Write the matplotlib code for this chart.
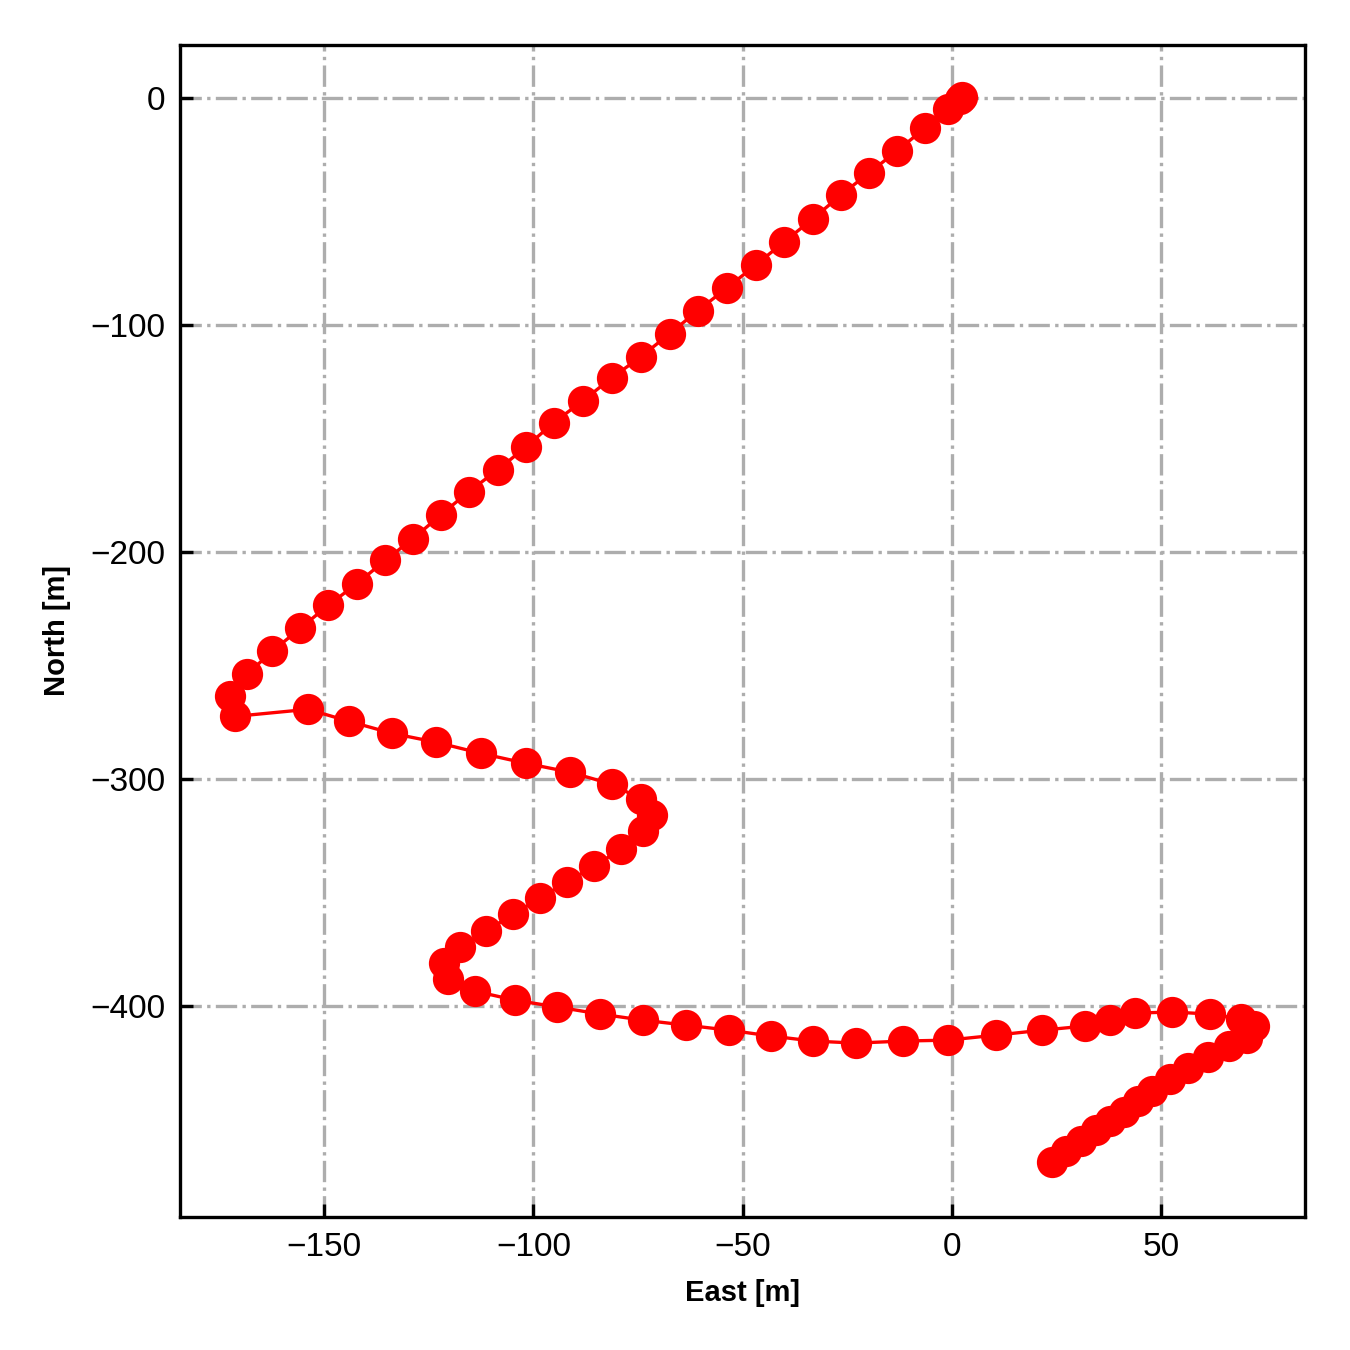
import matplotlib.pyplot as plt

plt.rcParams['font.family'] = ['Liberation Sans', 'DejaVu Sans']

# vehicle track, local east / north offsets in metres
east = [2.4, 1.8, -1.0, -6.4, -13.1, -19.8, -26.5, -33.2, -40.1, -46.8,
        -53.7, -60.7, -67.4, -74.3, -81.2, -88.1, -95.1, -101.7, -108.4, -115.4,
        -122.0, -128.7, -135.4, -142.1, -149.0, -155.7, -162.4, -168.4, -172.4, -171.2,
        -153.8, -144.0, -133.7, -123.2, -112.5, -101.7, -91.2, -81.2, -74.3, -71.7,
        -73.8, -79.1, -85.5, -92.0, -98.4, -104.8, -111.3, -117.5, -121.3, -120.4,
        -114.0, -104.4, -94.3, -84.1, -73.8, -63.5, -53.3, -43.2, -33.2, -22.9,
        -11.7, -1.0, 10.5, 21.5, 31.8, 37.7, 43.7, 52.5, 61.6, 69.0,
        72.1, 70.5, 66.2, 61.1, 56.4, 52.1, 47.8, 44.4, 41.1, 37.7,
        34.4, 30.8, 27.2, 23.9]
north = [0.2, -0.5, -4.8, -13.2, -23.3, -33.0, -42.7, -53.2, -63.4, -73.5,
         -83.6, -93.7, -103.8, -114.0, -123.2, -133.3, -143.0, -153.6, -163.7, -173.4,
         -183.5, -194.1, -203.7, -213.9, -223.5, -233.7, -243.8, -253.9, -263.6, -272.4,
         -269.3, -274.6, -279.9, -283.8, -288.7, -293.1, -297.0, -302.3, -308.9, -315.9,
         -323.0, -330.9, -338.4, -345.4, -352.5, -359.5, -367.0, -374.0, -381.1, -388.1,
         -393.4, -397.4, -400.4, -403.5, -406.2, -408.4, -410.6, -413.2, -415.4, -416.3,
         -415.4, -415.0, -412.8, -410.6, -408.8, -406.2, -403.1, -402.6, -403.5, -405.7,
         -408.8, -414.1, -417.6, -422.4, -427.3, -432.2, -437.4, -441.8, -446.6, -450.6,
         -454.5, -459.4, -463.8, -468.6]

xticks = [-150, -100, -50, 0, 50]
yticks = [0, -100, -200, -300, -400]

fig = plt.figure(figsize=(4.5, 4.5), dpi=300)
ax = fig.add_axes([0.1333, 0.0985, 0.8334, 0.8682])

ax.plot(east, north, '-o', color='red', lw=0.8, markersize=6.5, zorder=3)

ax.set_xlim(-184.4, 84.3)
ax.set_ylim(-492.9, 23.3)
ax.set_xticks(xticks)
ax.set_yticks(yticks)
ax.grid(True, color='#adadad', linestyle='-.', linewidth=0.8)
ax.set_axisbelow(True)

ax.tick_params(direction='in', length=3.2, width=0.8, labelsize=8, pad=3.5)
for s in ax.spines.values():
    s.set_linewidth(0.8)

ax.set_xlabel('East [m]', fontsize=7, fontweight='bold', labelpad=4)
ax.set_ylabel('North [m]', fontsize=7, fontweight='bold', labelpad=4.5)

fig.savefig('out.png', dpi=300)
